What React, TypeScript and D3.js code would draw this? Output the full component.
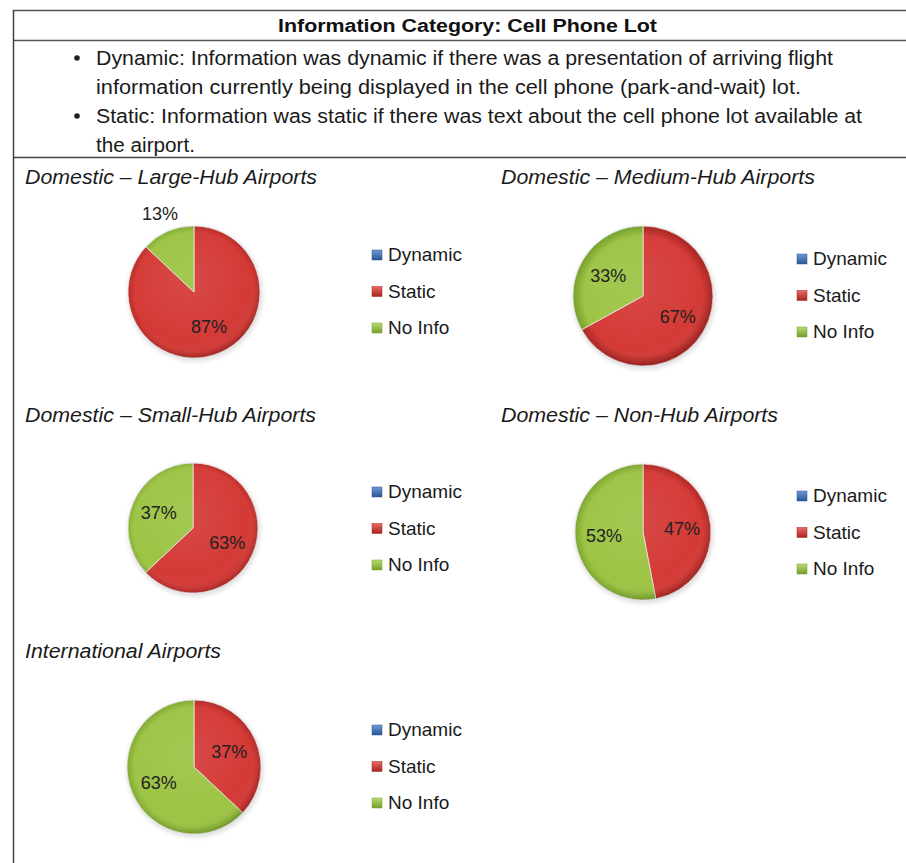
import React from "react";
import * as d3 from "d3";

const categories = ["Dynamic", "Static", "No Info"];
const panelTitles = [
  "Domestic – Large-Hub Airports",
  "Domestic – Medium-Hub Airports",
  "Domestic – Small-Hub Airports",
  "Domestic – Non-Hub Airports",
  "International Airports",
];
const dynamicValues = [0, 0, 0, 0, 0];
const staticValues = [87, 67, 63, 47, 37];
const noInfoValues = [13, 33, 37, 53, 63];

const headerTitle = "Information Category: Cell Phone Lot";
const bulletLines = [
  ["Dynamic: Information was dynamic if there was a presentation of arriving flight", "information currently being displayed in the cell phone (park-and-wait) lot."],
  ["Static: Information was static if there was text about the cell phone lot available at", "the airport."],
];
const bulletWidths = [737, 705, 766, 99];

const COLORS = ["#3f74bd", "#d43a36", "#9cc444"];
const DARK = ["#2a5594", "#a52420", "#759f2b"];
const LIGHT = ["#6f9ad6", "#ea6a66", "#bada72"];

// layout (positions only)
const layout = [
  { tx: 25, ty: 184, tw: 292, cx: 194, cy: 292, r: 66, lx: 372, ly: 261 },
  { tx: 501, ty: 184, tw: 314, cx: 643, cy: 296, r: 70, lx: 797, ly: 265 },
  { tx: 25, ty: 422, tw: 291, cx: 193, cy: 528, r: 65, lx: 372, ly: 498 },
  { tx: 501, ty: 422, tw: 277, cx: 643, cy: 532, r: 68, lx: 797, ly: 502 },
  { tx: 25, ty: 658, tw: 196, cx: 194, cy: 767, r: 67, lx: 372, ly: 736 },
];

const FONT = "'Liberation Sans', Arial, Helvetica, sans-serif";

function Pie({ idx }: { idx: number }) {
  const L = layout[idx];
  const values = [dynamicValues[idx], staticValues[idx], noInfoValues[idx]];
  const pie = d3.pie<number>().sort(null).value((d) => d);
  const arcs = pie(values);
  const arc = d3.arc<d3.PieArcDatum<number>>().innerRadius(0).outerRadius(L.r);
  const labelArc = d3.arc<d3.PieArcDatum<number>>().innerRadius(L.r * 1.15).outerRadius(L.r * 1.15);
  const outerArc = d3.arc<d3.PieArcDatum<number>>().innerRadius(L.r * 1.3).outerRadius(L.r * 1.3);
  return (
    <g>
      <text x={L.tx} y={L.ty} fontFamily={FONT} fontStyle="italic" fontSize={20} fill="#1a1a1a" textLength={L.tw} lengthAdjust="spacingAndGlyphs">
        {panelTitles[idx]}
      </text>
      <g transform={`translate(${L.cx},${L.cy})`}>
        <circle r={L.r + 1.5} fill="#000" opacity={0.12} filter="url(#blur)" transform="translate(1,2)" />
        {arcs.map((a, i) =>
          a.value > 0 ? (
            <path key={i} d={arc(a) || ""} fill={`url(#grad${i})`} stroke="#e6e6e6" strokeWidth={0.8} />
          ) : null
        )}
        <circle r={L.r} fill="url(#shade)" pointerEvents="none" />
        {arcs.map((a, i) => {
          if (a.value <= 0) return null;
          const frac = a.value / 100;
          const [x, y] = frac < 0.2 ? outerArc.centroid(a) : labelArc.centroid(a).map((v) => v * 0.5);
          return (
            <text key={"t" + i} x={x} y={y} dy="0.35em" textAnchor="middle" fontFamily={FONT} fontSize={18} fill="#222">
              {`${a.value}%`}
            </text>
          );
        })}
      </g>
      {categories.map((c, i) => (
        <g key={c} transform={`translate(${L.lx},${L.ly + i * 36.5})`}>
          <rect x={0} y={-11} width={10} height={10} fill={`url(#lg${i})`} stroke={DARK[i]} strokeWidth={0.5} />
          <text x={16} y={0} fontFamily={FONT} fontSize={19} fill="#1a1a1a">
            {c}
          </text>
        </g>
      ))}
    </g>
  );
}

export default function App() {
  return (
    <div style={{ position: "absolute", left: 0, top: 0 }}>
      <svg width={906} height={863} style={{ display: "block", background: "#fff" }}>
        <defs>
          <filter id="blur" x="-20%" y="-20%" width="140%" height="140%">
            <feGaussianBlur stdDeviation="2" />
          </filter>
          {COLORS.map((c, i) => (
            <radialGradient key={i} id={`grad${i}`} gradientUnits="userSpaceOnUse" cx={0} cy={0} r={70}>
              <stop offset="0%" stopColor={c} />
              <stop offset="85%" stopColor={c} />
              <stop offset="100%" stopColor={DARK[i]} />
            </radialGradient>
          ))}
          {COLORS.map((c, i) => (
            <linearGradient key={i} id={`lg${i}`} x1="0" y1="0" x2="0" y2="1">
              <stop offset="0%" stopColor={LIGHT[i]} />
              <stop offset="100%" stopColor={DARK[i]} />
            </linearGradient>
          ))}
          <radialGradient id="shade" cx="0.45" cy="0.4" r="0.6">
            <stop offset="0%" stopColor="#fff" stopOpacity={0.08} />
            <stop offset="80%" stopColor="#fff" stopOpacity={0} />
            <stop offset="100%" stopColor="#000" stopOpacity={0.1} />
          </radialGradient>
        </defs>

        {/* table frame */}
        <line x1={13} y1={10.5} x2={906} y2={10.5} stroke="#555" strokeWidth={1.5} />
        <line x1={13} y1={40.5} x2={906} y2={40.5} stroke="#555" strokeWidth={1.5} />
        <line x1={13} y1={157.5} x2={906} y2={157.5} stroke="#444" strokeWidth={1.5} />
        <line x1={13.5} y1={10} x2={13.5} y2={863} stroke="#444" strokeWidth={1.5} />

        <text x={278} y={32} fontFamily={FONT} fontWeight="bold" fontSize={18} fill="#111" textLength={379} lengthAdjust="spacingAndGlyphs">
          {headerTitle}
        </text>

        {bulletLines.map((lines, bi) =>
          lines.map((ln, li) => {
            const k = bi * 2 + li;
            const y = 65 + k * 29;
            return (
              <g key={`${bi}-${li}`}>
                {li === 0 && <circle cx={77} cy={y - 7} r={2.8} fill="#222" />}
                <text x={96} y={y} fontFamily={FONT} fontSize={20} fill="#1a1a1a" textLength={bulletWidths[k]} lengthAdjust="spacingAndGlyphs">
                  {ln}
                </text>
              </g>
            );
          })
        )}

        {panelTitles.map((_, i) => (
          <Pie key={i} idx={i} />
        ))}
      </svg>
    </div>
  );
}
